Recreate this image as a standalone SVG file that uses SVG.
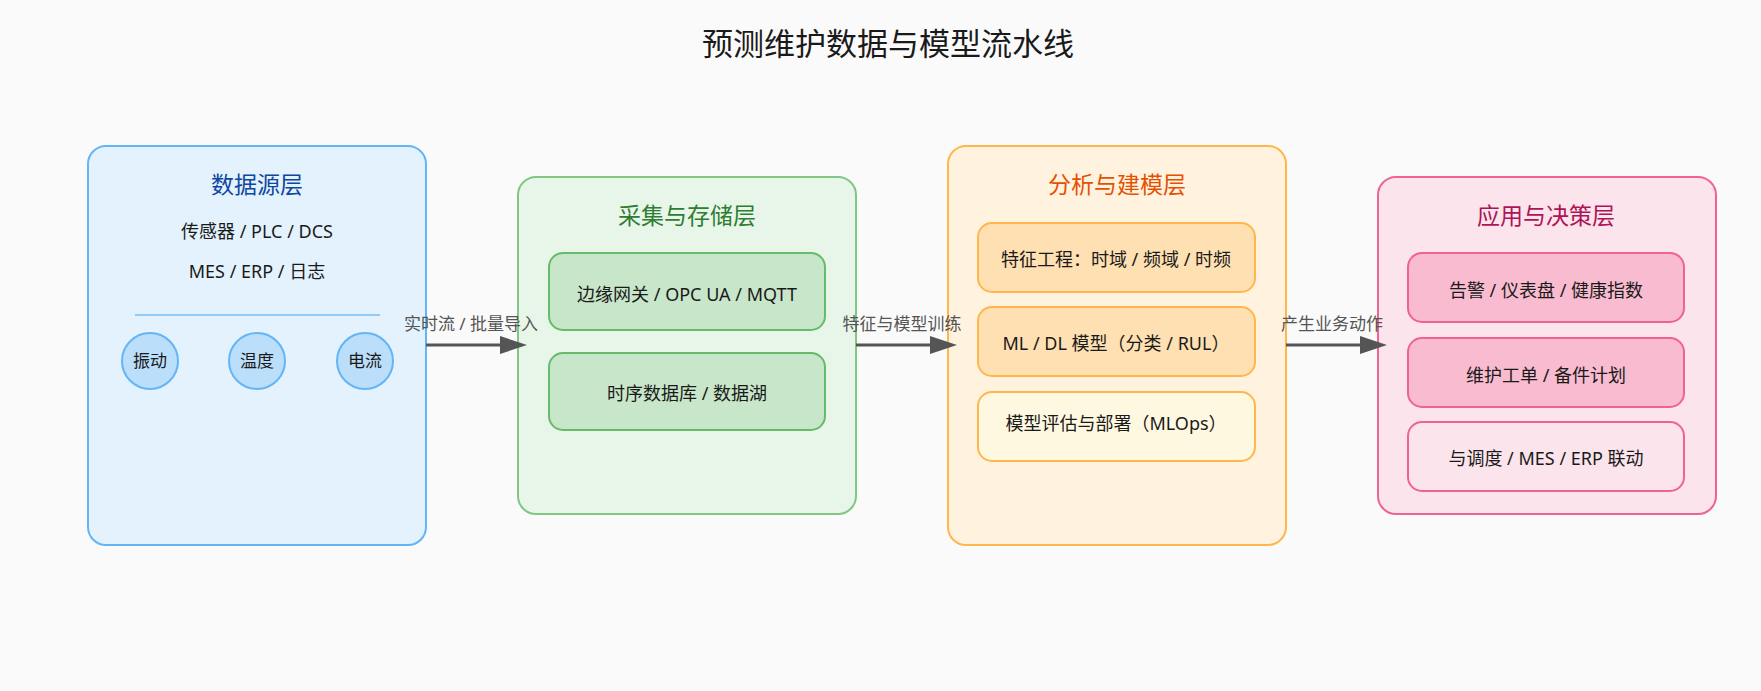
<svg xmlns="http://www.w3.org/2000/svg" width="1761" height="691" viewBox="0 0 1761 691">
<style>
text{font-family:"Noto Sans","Noto Sans CJK SC",sans-serif;text-anchor:middle}
.title{font-size:31px;fill:#1a1a1a}
.lt{font-size:23px}
.it{font-size:18px;fill:#1a1a1a}
.ct{font-size:17px;fill:#1a1a1a}
.lbl{font-size:17px;fill:#555}
.outer{stroke-width:2}
.inner{stroke-width:2}
.b1{fill:#E3F2FD;stroke:#64B5F6}
.b2{fill:#E8F5E9;stroke:#81C784}
.b2i{fill:#C8E6C9;stroke:#66BB6A}
.b3{fill:#FFF3E0;stroke:#FFB74D}
.b3i{fill:#FFE0B2;stroke:#FFB74D}
.b3j{fill:#FFF8E1;stroke:#FFB74D}
.b4{fill:#FCE4EC;stroke:#F06292}
.b4i{fill:#F8BBD0;stroke:#F06292}
.b4j{fill:#FCE4EC;stroke:#F06292}
.circ{fill:#BBDEFB;stroke:#64B5F6;stroke-width:2}
.arrow{stroke:#555;stroke-width:3;fill:none;marker-end:url(#ah)}
</style>
<defs>
<marker id="ah" markerUnits="userSpaceOnUse" markerWidth="27" markerHeight="18" refX="18" refY="9" orient="auto">
<path d="M0,0 L27,9 L0,18 z" fill="#555"/>
</marker>
</defs>
<rect x="0" y="0" width="1761" height="691" fill="#FAFAFA"/>
<text class="title" x="888" y="55">预测维护数据与模型流水线</text>

<g id="layer-source">
<rect class="outer b1" x="88" y="146" width="338" height="399" rx="18"/>
<text class="lt" x="257" y="193" fill="#0D47A1">数据源层</text>
<text class="it" x="257" y="238">传感器 / PLC / DCS</text>
<text class="it" x="257" y="278">MES / ERP / 日志</text>
<line x1="135" y1="315" x2="380" y2="315" stroke="#90CAF9" stroke-width="2"/>
</g>
<g id="node-vibration">
<circle class="circ" cx="150" cy="361" r="28"/>
<text class="ct" x="150" y="367">振动</text>
</g>
<g id="node-temperature">
<circle class="circ" cx="257" cy="361" r="28"/>
<text class="ct" x="257" y="367">温度</text>
</g>
<g id="node-current">
<circle class="circ" cx="365" cy="361" r="28"/>
<text class="ct" x="365" y="367">电流</text>
</g>

<g id="layer-ingest">
<rect class="outer b2" x="518" y="177" width="338" height="337" rx="18"/>
<text class="lt" x="687" y="224" fill="#2E7D32">采集与存储层</text>
</g>
<g id="node-gateway">
<rect class="inner b2i" x="549" y="253" width="276" height="77" rx="14"/>
<text class="it" x="687" y="301">边缘网关 / OPC UA / MQTT</text>
</g>
<g id="node-tsdb">
<rect class="inner b2i" x="549" y="353" width="276" height="77" rx="14"/>
<text class="it" x="687" y="400">时序数据库 / 数据湖</text>
</g>

<g id="layer-model">
<rect class="outer b3" x="948" y="146" width="338" height="399" rx="18"/>
<text class="lt" x="1117" y="193" fill="#E65100">分析与建模层</text>
</g>
<g id="node-feature">
<rect class="inner b3i" x="978" y="223" width="277" height="69" rx="14"/>
<text class="it" x="1116" y="266">特征工程：时域 / 频域 / 时频</text>
</g>
<g id="node-ml">
<rect class="inner b3i" x="978" y="307" width="277" height="69" rx="14"/>
<text class="it" x="1116" y="350">ML / DL 模型（分类 / RUL）</text>
</g>
<g id="node-mlops">
<rect class="inner b3j" x="978" y="392" width="277" height="69" rx="14"/>
<text class="it" x="1116" y="430">模型评估与部署（MLOps）</text>
</g>

<g id="layer-app">
<rect class="outer b4" x="1378" y="177" width="338" height="337" rx="18"/>
<text class="lt" x="1546" y="224" fill="#AD1457">应用与决策层</text>
</g>
<g id="node-alert">
<rect class="inner b4i" x="1408" y="253" width="276" height="69" rx="14"/>
<text class="it" x="1546" y="297">告警 / 仪表盘 / 健康指数</text>
</g>
<g id="node-workorder">
<rect class="inner b4i" x="1408" y="338" width="276" height="69" rx="14"/>
<text class="it" x="1546" y="382">维护工单 / 备件计划</text>
</g>
<g id="node-mes">
<rect class="inner b4j" x="1408" y="422" width="276" height="69" rx="14"/>
<text class="it" x="1546" y="465">与调度 / MES / ERP 联动</text>
</g>

<g id="connectors">
<line class="arrow" x1="426" y1="345" x2="518" y2="345"/>
<text class="lbl" x="471" y="330">实时流 / 批量导入</text>
<line class="arrow" x1="856" y1="345" x2="948" y2="345"/>
<text class="lbl" x="902" y="330">特征与模型训练</text>
<line class="arrow" x1="1286" y1="345" x2="1378" y2="345"/>
<text class="lbl" x="1332" y="330">产生业务动作</text>
</g>
</svg>
